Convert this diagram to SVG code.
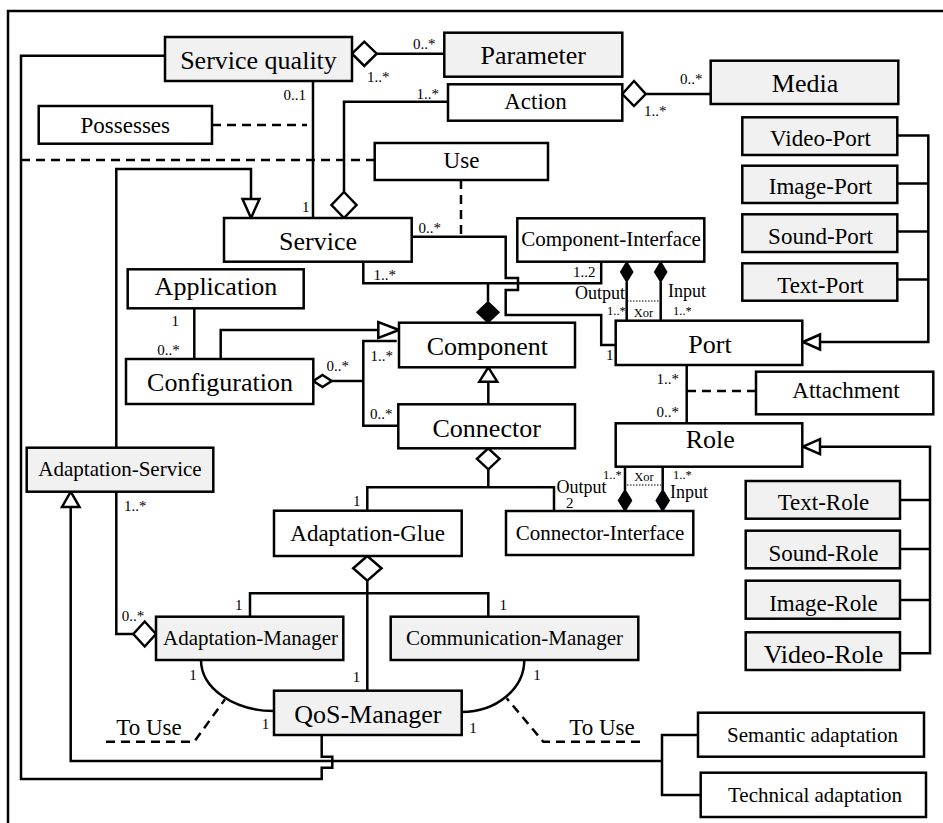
<svg xmlns="http://www.w3.org/2000/svg" width="943" height="823" viewBox="0 0 943 823">
<style>
.b{fill:#ffffff;stroke:#000;stroke-width:2.5}
.g{fill:#f1f1f1;stroke:#000;stroke-width:2.5}
.t{font-family:"Liberation Serif","Times New Roman",serif;fill:#000;text-anchor:middle}
.L{font-size:26px}
.M{font-size:23px}
.S{font-size:21px}
.m{font-family:"Liberation Serif","Times New Roman",serif;font-size:15px;fill:#000}
.s{font-family:"Liberation Serif","Times New Roman",serif;font-size:12.5px;fill:#000}
.io{font-family:"Liberation Serif","Times New Roman",serif;font-size:18px;fill:#000}
.ln{fill:none;stroke:#000;stroke-width:2.5}
.da{fill:none;stroke:#000;stroke-width:2.5;stroke-dasharray:9,6}
.dot{fill:none;stroke:#000;stroke-width:1;stroke-dasharray:1.5,1.5}
.hd{fill:#fff;stroke:#000;stroke-width:2.5}
.fd{fill:#000;stroke:#000;stroke-width:1.5}
</style>
<rect width="943" height="823" fill="#fff"/>
<path class="ln" d="M8,823 V11 H943"/>

<g id="connectors">
  <!-- Service quality - Parameter -->
  <path class="ln" d="M376.7,53.7 H444.3"/>
  <polygon class="hd" points="352,53.7 364.3,41.7 376.7,53.7 364.3,66"/>
  <text class="m" x="413" y="49">0..*</text>
  <text class="m" x="367" y="82">1..*</text>
  <!-- Action - Media -->
  <path class="ln" d="M645.7,94 H710.7"/>
  <polygon class="hd" points="622.3,94 634,81 645.7,94 634,106"/>
  <text class="m" x="680" y="84">0..*</text>
  <text class="m" x="644" y="116">1..*</text>
  <!-- Service quality - Service -->
  <path class="ln" d="M313,81 V218"/>
  <text class="m" x="283.5" y="100">0..1</text>
  <text class="m" x="302" y="212">1</text>
  <path class="da" d="M212,125 H307"/>
  <!-- Use -->
  <path class="da" d="M21,160 H374.7"/>
  <path class="da" d="M461,180 V236"/>
  <!-- Service - Action -->
  <path class="ln" d="M344,192 V101.7 H448"/>
  <polygon class="hd" points="344,192 356.5,205 344,218 331.5,205"/>
  <text class="m" x="416.5" y="99">1..*</text>
  <!-- Service - Port (with bridge) -->
  <path class="ln" d="M413,236.7 H505.7 V278 H518 V290 H505.7 V315 H601.2 V345 H615.7"/>
  <text class="m" x="418.5" y="233">0..*</text>
  <text class="m" x="606" y="360">1</text>
  <!-- Service / Component-Interface / Component -->
  <path class="ln" d="M363.3,262 V283.3 H601.2 V261.7"/>
  <path class="ln" d="M488,283.3 V301.7"/>
  <polygon class="fd" points="488,301.7 499,312.2 488,322.7 477,312.2"/>
  <text class="m" x="373.5" y="280">1..*</text>
  <text class="m" x="573" y="277">1..2</text>
  <!-- Component-Interface - Port -->
  <path class="ln" d="M626.7,281.7 V320.7 M660.7,281.7 V320.7"/>
  <polygon class="fd" points="626.7,262 632.7,272 626.7,281.7 620.7,272"/>
  <polygon class="fd" points="660.7,262 666.7,272 660.7,281.7 654.7,272"/>
  <path class="dot" d="M627,301 H660"/>
  <text class="io" x="625" y="299" text-anchor="end">Output</text>
  <text class="io" x="668" y="297">Input</text>
  <text class="s" x="607" y="315">1..*</text>
  <text class="s" x="643.5" y="316.5" text-anchor="middle">Xor</text>
  <text class="s" x="673" y="315">1..*</text>
  <!-- Port - Role -->
  <path class="ln" d="M686.7,365 V423.3"/>
  <path class="da" d="M687,391 H756"/>
  <text class="m" x="656.5" y="384">1..*</text>
  <text class="m" x="656.5" y="417">0..*</text>
  <!-- Port subtypes -->
  <path class="ln" d="M897.3,135.5 H928.3 V342 H820 M897.3,183.5 H928.3 M897.3,231.5 H928.3 M897.3,279.5 H928.3"/>
  <polygon class="hd" points="803,342 820,334.5 820,349.5"/>
  <!-- Role subtypes -->
  <path class="ln" d="M820,446.7 H930 V653.3 H900 M900,500 H930 M900,549 H930 M900,600 H930"/>
  <polygon class="hd" points="803,446.7 820,439.2 820,454.2"/>
  <!-- Role - Connector-Interface -->
  <path class="ln" d="M625,466.7 V490 M662.7,466.7 V490"/>
  <polygon class="fd" points="625,490 631.5,500.5 625,511 618.5,500.5"/>
  <polygon class="fd" points="662.7,490 669.2,500.5 662.7,511 656.2,500.5"/>
  <path class="dot" d="M627,485 H661"/>
  <text class="s" x="603" y="478.5">1..*</text>
  <text class="s" x="644" y="481" text-anchor="middle">Xor</text>
  <text class="s" x="673" y="478.5">1..*</text>
  <text class="io" x="556.5" y="492.5">Output</text>
  <text class="io" x="670" y="497.5">Input</text>
  <!-- Component <- Connector -->
  <path class="ln" d="M488.3,381.7 V404.3"/>
  <polygon class="hd" points="488.3,367.3 497.3,381.7 479.3,381.7"/>
  <!-- Configuration -> Component -->
  <path class="ln" d="M220.7,359 V330 H378.3"/>
  <polygon class="hd" points="399,330 378.3,322 378.3,338"/>
  <!-- Configuration aggregation -->
  <path class="ln" d="M331.7,381 H363.3 M396.7,341 H363.3 V425.7 H398.3"/>
  <polygon class="hd" points="313.3,381 322.5,375 331.7,381 322.5,387"/>
  <text class="m" x="326.5" y="371">0..*</text>
  <text class="m" x="370.5" y="361">1..*</text>
  <text class="m" x="370" y="418.5">0..*</text>
  <!-- Application - Configuration -->
  <path class="ln" d="M194.3,308.3 V359"/>
  <text class="m" x="171.5" y="326">1</text>
  <text class="m" x="157.3" y="355">0..*</text>
  <!-- Adaptation-Service -> Service -->
  <path class="ln" d="M116.3,447.7 V169 H251 V199"/>
  <polygon class="hd" points="251,218 242.5,199 259.5,199"/>
  <!-- Connector - Adaptation-Glue / Connector-Interface -->
  <path class="ln" d="M488.3,469.3 V487.3 M367.3,510.7 V487.3 H554 V511"/>
  <polygon class="hd" points="488.3,448.3 499.5,458.8 488.3,469.3 477,458.8"/>
  <text class="m" x="353" y="506">1</text>
  <text class="m" x="566" y="508">2</text>
  <!-- Adaptation-Service - Adaptation-Manager -->
  <path class="ln" d="M116.3,491.7 V634 H133.3"/>
  <polygon class="hd" points="133.3,634 144.7,621.5 156,634 144.7,646.5"/>
  <text class="m" x="124" y="511">1..*</text>
  <text class="m" x="121.7" y="621">0..*</text>
  <!-- Adaptation-Service generalization -->
  <path class="ln" d="M70.7,507 V761 H662 M698,735 H662 V795 H700.7"/>
  <polygon class="hd" points="70.7,491.7 79.5,507 62,507"/>
  <!-- Adaptation-Glue - managers -->
  <path class="ln" d="M367.3,580.7 V690.7 M250,616.7 V593.3 H488.3 V616.7"/>
  <polygon class="hd" points="367.3,556 381.5,568.3 367.3,580.7 353.2,568.3"/>
  <text class="m" x="235" y="610">1</text>
  <text class="m" x="499.5" y="610">1</text>
  <text class="m" x="352.7" y="681.5">1</text>
  <!-- arcs -->
  <path class="ln" d="M201,660 A73,51 0 0,0 274,711"/>
  <path class="ln" d="M524.3,660 A62.6,52 0 0,1 461.7,712"/>
  <text class="m" x="189.3" y="680">1</text>
  <text class="m" x="261.7" y="728.5">1</text>
  <text class="m" x="533.3" y="680">1</text>
  <text class="m" x="469.3" y="732.5">1</text>
  <!-- To Use -->
  <path class="da" d="M106,741.7 H194.3 L225,699.3"/>
  <path class="da" d="M640,741.7 H543.3 L506.7,698.3"/>
  <text class="t M" x="149" y="734.5">To Use</text>
  <text class="t M" x="602" y="734.5">To Use</text>
  <!-- QoS-Manager - Service quality (with bridge) -->
  <path class="ln" d="M321.7,735 V756.7 H332.3 V767.7 H321.7 V779 H21 V55.7 H165"/>
</g>

<g id="service-quality"><rect class="g" x="165" y="37" width="187" height="44"/><text class="t L" x="258.5" y="68.5">Service quality</text></g>
<g id="parameter"><rect class="g" x="444.3" y="32.7" width="178" height="44"/><text class="t L" x="533.3" y="64">Parameter</text></g>
<g id="action"><rect class="b" x="448" y="84.3" width="174.3" height="36.4"/><text class="t M" x="535.5" y="109">Action</text></g>
<g id="media"><rect class="g" x="710.7" y="60.7" width="187.6" height="43.3"/><text class="t L" x="805" y="91.7">Media</text></g>
<g id="possesses"><rect class="b" x="38.7" y="106" width="173.3" height="37.7"/><text class="t M" x="125.3" y="132.7">Possesses</text></g>
<g id="use"><rect class="b" x="374.7" y="143" width="173.3" height="37"/><text class="t M" x="461.5" y="168.3">Use</text></g>
<g id="service"><rect class="b" x="224" y="218" width="187.7" height="43.7"/><text class="t L" x="318" y="250">Service</text></g>
<g id="component-interface"><rect class="b" x="517.3" y="218.3" width="187" height="43.4"/><text class="t S" x="611" y="246">Component-Interface</text></g>
<g id="video-port"><rect class="g" x="742.3" y="117.3" width="155" height="37.7"/><text class="t M" x="820.5" y="146">Video-Port</text></g>
<g id="image-port"><rect class="g" x="742.3" y="165.7" width="155" height="37.3"/><text class="t M" x="820.5" y="194.3">Image-Port</text></g>
<g id="sound-port"><rect class="g" x="742.3" y="214.3" width="155" height="37.7"/><text class="t M" x="820.5" y="244.3">Sound-Port</text></g>
<g id="text-port"><rect class="g" x="742.3" y="263.3" width="155" height="37.4"/><text class="t M" x="820.5" y="293.3">Text-Port</text></g>
<g id="application"><rect class="b" x="127.7" y="269.3" width="176" height="39"/><text class="t L" x="216" y="295">Application</text></g>
<g id="component"><rect class="b" x="399" y="322.7" width="176" height="44.6"/><text class="t L" x="487.3" y="355">Component</text></g>
<g id="configuration"><rect class="b" x="126" y="359" width="187.3" height="45"/><text class="t L" x="220" y="391">Configuration</text></g>
<g id="port"><rect class="b" x="615.7" y="320.7" width="186.6" height="44.3"/><text class="t L" x="710" y="353.3">Port</text></g>
<g id="attachment"><rect class="b" x="756" y="371.7" width="177.3" height="42.6"/><text class="t M" x="846" y="398.3">Attachment</text></g>
<g id="connector"><rect class="b" x="398.3" y="404.3" width="176.7" height="44"/><text class="t L" x="486.7" y="436.7">Connector</text></g>
<g id="role"><rect class="b" x="615.7" y="423.3" width="186.6" height="43.4"/><text class="t L" x="710.3" y="448.3">Role</text></g>
<g id="adaptation-service"><rect class="g" x="26.7" y="447.7" width="186.6" height="44"/><text class="t S" x="120" y="475.7">Adaptation-Service</text></g>
<g id="text-role"><rect class="g" x="745.7" y="481" width="154.3" height="37.7"/><text class="t M" x="823.5" y="510">Text-Role</text></g>
<g id="adaptation-glue"><rect class="b" x="274" y="510.7" width="187.7" height="45.3"/><text class="t M" x="367.6" y="540.7">Adaptation-Glue</text></g>
<g id="connector-interface"><rect class="b" x="506" y="511" width="187.3" height="44"/><text class="t S" x="600" y="540">Connector-Interface</text></g>
<g id="sound-role"><rect class="g" x="745.7" y="530.7" width="154.3" height="37.6"/><text class="t M" x="823.5" y="560.7">Sound-Role</text></g>
<g id="image-role"><rect class="g" x="745.7" y="580.7" width="154.3" height="38"/><text class="t M" x="823.5" y="611">Image-Role</text></g>
<g id="video-role"><rect class="g" x="745.7" y="632.3" width="154.3" height="37.7"/><text class="t L" x="823.5" y="663.3">Video-Role</text></g>
<g id="adaptation-manager"><rect class="g" x="156" y="616.7" width="187.3" height="43.3"/><text class="t S" x="250.5" y="645">Adaptation-Manager</text></g>
<g id="communication-manager"><rect class="g" x="390.7" y="616.7" width="247.6" height="43.3"/><text class="t S" x="514.5" y="645">Communication-Manager</text></g>
<g id="qos-manager"><rect class="g" x="274" y="690.7" width="187.7" height="44.3"/><text class="t L" x="367.8" y="723.3">QoS-Manager</text></g>
<g id="semantic-adaptation"><rect class="b" x="698" y="712.7" width="226" height="44"/><text class="t S" x="812.5" y="741.7">Semantic adaptation</text></g>
<g id="technical-adaptation"><rect class="b" x="700.7" y="772.7" width="225.3" height="44.3"/><text class="t S" x="815" y="801.7">Technical adaptation</text></g>
</svg>
